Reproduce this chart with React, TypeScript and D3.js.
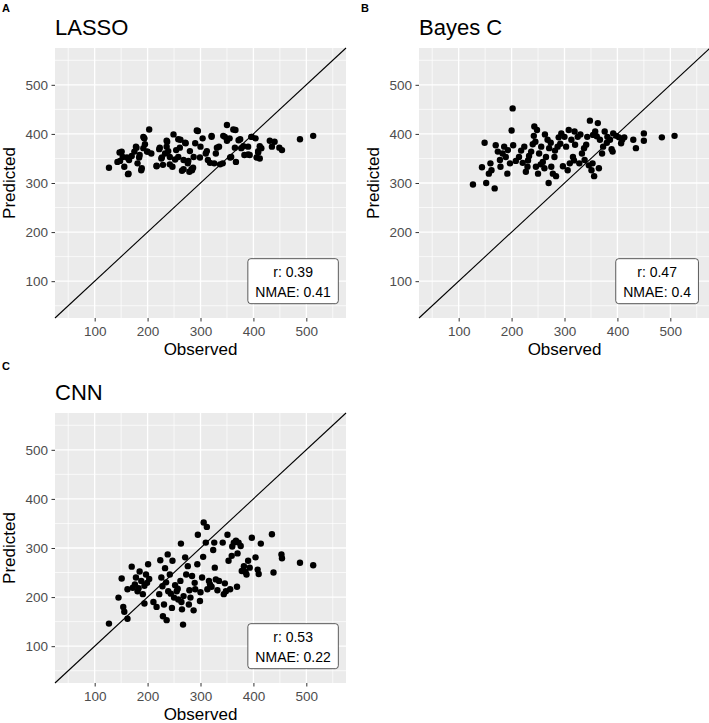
import { useRef, useEffect } from 'react';
import * as d3 from 'd3';

type Pt = [number, number];

// observed, predicted
const lassoPoints: Pt[] = [
  [127, 331], [147, 362], [143, 343], [153, 353], [163, 318], [156, 333], [165, 347], [175, 364],
  [178, 374], [185, 357], [188, 326], [181, 340], [192, 371], [194, 391], [203, 409], [192, 394],
  [200, 364], [207, 360], [217, 335], [222, 369], [226, 350], [229, 337], [233, 360], [236, 374],
  [237, 384], [242, 353], [247, 333], [249, 399], [254, 367], [258, 353], [262, 388], [265, 325],
  [268, 347], [272, 381], [276, 340], [279, 323], [284, 326], [287, 353], [290, 381], [295, 406],
  [300, 374], [304, 391], [310, 360], [314, 347], [321, 394], [326, 340], [329, 360], [335, 374],
  [342, 340], [346, 394], [350, 418], [355, 391], [358, 353], [366, 408], [367, 343], [372, 387],
  [377, 371], [383, 357], [390, 374], [396, 394], [404, 391], [393, 357], [409, 362], [412, 350],
  [415, 371], [435, 374], [440, 384], [454, 367], [488, 389], [513, 396],
  [151, 364], [148, 345], [164, 319], [161, 352], [170, 355], [179, 372], [184, 352], [189, 330],
  [193, 392], [195, 379], [199, 364], [217, 334], [223, 372], [227, 352], [236, 386], [239, 365],
  [242, 338], [252, 348], [258, 389], [261, 372], [268, 328], [271, 382], [277, 345], [280, 365],
  [283, 328], [362, 409], [293, 407], [321, 396], [343, 396], [375, 389], [397, 394], [412, 375],
  [431, 386], [449, 372], [406, 352], [409, 365], [390, 358], [365, 372], [356, 352], [337, 338],
  [318, 341], [299, 352], [286, 331], [312, 365], [331, 372], [381, 375], [350, 386],
];

const bayesCPoints: Pt[] = [
  [127, 297], [144, 332], [149, 382], [152, 300], [157, 319], [162, 326], [160, 340], [168, 289],
  [170, 377], [174, 364], [178, 347], [179, 333], [186, 374], [189, 353], [192, 319], [193, 367],
  [197, 340], [202, 452], [200, 407], [203, 377], [214, 353], [221, 341], [224, 374], [227, 323],
  [230, 333], [233, 355], [237, 364], [240, 379], [242, 396], [243, 415], [248, 408], [246, 333],
  [250, 319], [252, 360], [256, 374], [259, 343], [262, 330], [265, 353], [268, 388], [271, 371],
  [270, 300], [275, 333], [278, 319], [281, 353], [284, 314], [287, 374], [289, 393], [294, 401],
  [297, 334], [300, 394], [303, 374], [306, 326], [310, 340], [313, 388], [316, 353], [319, 405],
  [320, 378], [325, 394], [328, 340], [333, 360], [337, 371], [338, 347], [343, 394], [346, 336],
  [348, 427], [351, 326], [353, 340], [356, 314], [354, 398], [358, 405], [363, 422], [365, 330],
  [367, 388], [371, 360], [373, 374], [376, 405], [381, 394], [386, 388], [389, 369], [391, 364],
  [392, 401], [398, 396], [403, 393], [407, 381], [409, 388], [413, 393], [430, 388], [435, 371],
  [450, 401], [450, 386], [484, 393], [508, 396],
  [183, 360], [208, 345], [218, 366], [231, 346], [245, 384], [255, 338], [263, 399], [274, 382],
  [282, 366], [292, 380], [308, 408], [318, 346], [330, 399], [341, 378], [361, 395], [380, 382],
];

const cnnPoints: Pt[] = [
  [127, 146], [145, 199], [151, 238], [154, 180], [156, 170], [162, 156], [162, 216], [170, 262],
  [172, 219], [178, 240], [181, 212], [185, 252], [188, 233], [191, 206], [194, 223], [197, 246],
  [201, 267], [194, 187], [203, 237], [217, 180], [222, 206], [224, 275], [226, 240], [229, 161],
  [231, 185], [233, 259], [236, 153], [238, 287], [239, 212], [242, 246], [246, 178], [247, 274],
  [250, 199], [255, 212], [258, 195], [262, 233], [263, 309], [265, 175], [267, 144], [268, 202],
  [271, 281], [273, 246], [276, 263], [278, 185], [281, 199], [284, 243], [287, 173], [290, 216],
  [294, 267], [295, 327], [299, 192], [303, 240], [305, 282], [306, 352], [312, 343], [310, 311],
  [313, 216], [316, 233], [321, 221], [324, 296], [326, 311], [327, 260], [329, 236], [335, 233],
  [342, 311], [344, 206], [348, 212], [351, 327], [353, 274], [356, 216], [359, 284], [363, 311],
  [367, 315], [369, 221], [370, 289], [376, 304], [378, 253], [382, 263], [387, 246], [390, 274],
  [393, 260], [397, 321], [404, 281], [408, 256], [410, 247], [414, 309], [435, 328], [438, 250],
  [453, 287], [454, 279], [488, 270], [513, 265],
  [176, 226], [183, 218], [199, 229], [211, 190], [228, 222], [235, 230], [244, 207], [252, 224],
  [257, 217], [264, 190], [279, 214], [289, 229], [300, 210], [318, 226], [332, 214], [346, 228],
  [360, 303], [372, 311], [385, 251],
];

const panelPoints: Pt[][] = [lassoPoints, bayesCPoints, cnnPoints];
const panelTags = ['A', 'B', 'C'];
const panelTitles = ['LASSO', 'Bayes C', 'CNN'];
const rValues = ['0.39', '0.47', '0.53'];
const nmaeValues = ['0.41', '0.4', '0.22'];
const majorTicks = [100, 200, 300, 400, 500];
const minorTicks = [50, 150, 250, 350, 450, 550];
const axisLimits: [number, number] = [25, 575];
const labelAt: Pt = [475, 100];

const W = 709;
const H = 723;
const PW = 291;
const PH = 270;
const FONT = '"Liberation Sans", Arial, sans-serif';
const layout = [
  { x: 55, y: 48, tagX: 2, tagY: 12 },
  { x: 419, y: 48, tagX: 361, tagY: 12 },
  { x: 55, y: 413, tagX: 2, tagY: 370 },
];

const App = () => {
  const ref = useRef<SVGSVGElement>(null);

  useEffect(() => {
    const svg = d3.select(ref.current);
    svg.selectAll('*').remove();

    panelPoints.forEach((pts, i) => {
      const pos = layout[i];
      const x = d3.scaleLinear().domain(axisLimits).range([0, PW]);
      const y = d3.scaleLinear().domain(axisLimits).range([PH, 0]);

      svg
        .append('text')
        .attr('x', pos.tagX)
        .attr('y', pos.tagY)
        .attr('font-family', FONT)
        .attr('font-weight', 'bold')
        .attr('font-size', 11)
        .text(panelTags[i]);

      const g = svg.append('g').attr('transform', `translate(${pos.x},${pos.y})`);

      g.append('text')
        .attr('x', 0)
        .attr('y', -13)
        .attr('font-family', FONT)
        .attr('font-size', 22)
        .text(panelTitles[i]);

      g.append('rect').attr('width', PW).attr('height', PH).attr('fill', '#EBEBEB');

      g.selectAll('.minx')
        .data(minorTicks)
        .join('line')
        .attr('x1', (d) => x(d))
        .attr('x2', (d) => x(d))
        .attr('y1', 0)
        .attr('y2', PH)
        .attr('stroke', '#fff')
        .attr('stroke-width', 0.7);
      g.selectAll('.miny')
        .data(minorTicks)
        .join('line')
        .attr('y1', (d) => y(d))
        .attr('y2', (d) => y(d))
        .attr('x1', 0)
        .attr('x2', PW)
        .attr('stroke', '#fff')
        .attr('stroke-width', 0.7);
      g.selectAll('.majx')
        .data(majorTicks)
        .join('line')
        .attr('x1', (d) => x(d))
        .attr('x2', (d) => x(d))
        .attr('y1', 0)
        .attr('y2', PH)
        .attr('stroke', '#fff')
        .attr('stroke-width', 1.3);
      g.selectAll('.majy')
        .data(majorTicks)
        .join('line')
        .attr('y1', (d) => y(d))
        .attr('y2', (d) => y(d))
        .attr('x1', 0)
        .attr('x2', PW)
        .attr('stroke', '#fff')
        .attr('stroke-width', 1.3);

      g.append('line')
        .attr('x1', x(axisLimits[0]))
        .attr('y1', y(axisLimits[0]))
        .attr('x2', x(axisLimits[1]))
        .attr('y2', y(axisLimits[1]))
        .attr('stroke', '#000')
        .attr('stroke-width', 1.1);

      g.selectAll('circle')
        .data(pts)
        .join('circle')
        .attr('cx', (d) => x(d[0]))
        .attr('cy', (d) => y(d[1]))
        .attr('r', 3.2)
        .attr('fill', '#000');

      // label box
      const lab = g.append('g').attr('transform', `translate(${x(labelAt[0])},${y(labelAt[1])})`);
      const box = lab.append('rect');
      const t1 = lab
        .append('text')
        .attr('y', -4)
        .attr('text-anchor', 'middle')
        .attr('font-family', FONT)
        .attr('font-size', 14)
        .text(`r: ${rValues[i]}`);
      const t2 = lab
        .append('text')
        .attr('y', 16)
        .attr('text-anchor', 'middle')
        .attr('font-family', FONT)
        .attr('font-size', 14)
        .text(`NMAE: ${nmaeValues[i]}`);
      const tw = Math.max(
        (t1.node() as SVGTextElement).getComputedTextLength(),
        (t2.node() as SVGTextElement).getComputedTextLength()
      );
      const bw = tw + 15;
      box
        .attr('x', -bw / 2)
        .attr('y', -22.5)
        .attr('width', bw)
        .attr('height', 45)
        .attr('rx', 3)
        .attr('fill', '#fff')
        .attr('stroke', '#333')
        .attr('stroke-width', 0.8);

      const xAxis = g
        .append('g')
        .attr('transform', `translate(0,${PH})`)
        .call(d3.axisBottom(x).tickValues(majorTicks).tickSize(3.5).tickPadding(5));
      const yAxis = g
        .append('g')
        .call(d3.axisLeft(y).tickValues(majorTicks).tickSize(3.5).tickPadding(3.5));
      [xAxis, yAxis].forEach((a) => {
        a.select('.domain').remove();
        a.selectAll('line').attr('stroke', '#333').attr('stroke-width', 1);
        a.selectAll('text')
          .attr('fill', '#4D4D4D')
          .attr('font-family', FONT)
          .attr('font-size', 13.5);
      });

      g.append('text')
        .attr('x', PW / 2)
        .attr('y', PH + 36.5)
        .attr('text-anchor', 'middle')
        .attr('font-family', FONT)
        .attr('font-size', 17)
        .text('Observed');
      g.append('text')
        .attr('transform', `translate(-40,${PH / 2}) rotate(-90)`)
        .attr('text-anchor', 'middle')
        .attr('font-family', FONT)
        .attr('font-size', 17)
        .text('Predicted');
    });

    return () => {
      svg.selectAll('*').remove();
    };
  }, []);

  return (
    <svg
      ref={ref}
      width={W}
      height={H}
      style={{ position: 'absolute', left: 0, top: 0, background: '#fff' }}
    ></svg>
  );
};

export default App;
